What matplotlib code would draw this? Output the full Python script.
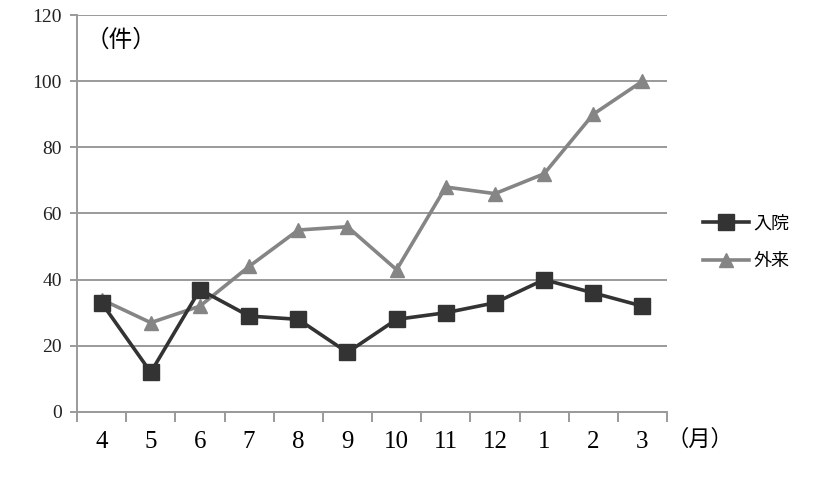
import matplotlib
matplotlib.use("Agg")
import matplotlib.pyplot as plt
import numpy as np

months = ["4", "5", "6", "7", "8", "9", "10", "11", "12", "1", "2", "3"]
inpatient = [33, 12, 37, 29, 28, 18, 28, 30, 33, 40, 36, 32]
outpatient = [34, 27, 32, 44, 55, 56, 43, 68, 66, 72, 90, 100]
yticks = [0, 20, 40, 60, 80, 100, 120]

plt.rcParams['font.family'] = ['Liberation Serif', 'Noto Sans CJK JP']

fig = plt.figure(figsize=(8.16, 4.84), dpi=100)
ax = fig.add_axes([0.0944, 0.1488, 0.8174 - 0.0944, 0.969 - 0.1488])

x = np.arange(len(months))
grid_c = "#9a9a9a"
ax.plot(x, inpatient, color="#333333", lw=2.6, marker="s", ms=11, label="入院", zorder=3)
ax.plot(x, outpatient, color="#858585", lw=2.6, marker="^", ms=10, label="外来", zorder=2)

ax.set_xlim(-0.5, len(months) - 0.5)
ax.set_ylim(0, 120)
ax.set_yticks(yticks)
ax.set_yticklabels([str(v) for v in yticks], fontsize=14, color="#222222")
ax.yaxis.grid(True, color=grid_c, lw=1.4)
ax.set_axisbelow(True)
ax.tick_params(axis='y', length=5, color=grid_c, width=1.4, pad=6)

ax.set_xticks(x)
ax.set_xticklabels(months, fontsize=18)
ax.set_xticks(np.arange(-0.5, len(months), 1.0), minor=True)
ax.tick_params(axis='x', which='major', length=0, pad=14)
ax.tick_params(axis='x', which='minor', length=7, color=grid_c, width=1.4)

for s in ["top", "right"]:
    ax.spines[s].set_visible(False)
for s in ["left", "bottom"]:
    ax.spines[s].set_color(grid_c)
    ax.spines[s].set_linewidth(1.4)

ax.text(0.015, 0.965, "（件）", transform=ax.transAxes, fontsize=17, va="top", ha="left",
        family=['Noto Sans CJK JP'])
ax.text(1.0, -0.07, "（月）", transform=ax.transAxes, fontsize=16, va="center", ha="left",
        family=['Noto Sans CJK JP'])

leg = fig.legend(loc="center left", bbox_to_anchor=(0.841, 0.50), frameon=False,
                 handlelength=2.6, handletextpad=0.2, labelspacing=1.1,
                 prop={'family': ['Noto Sans CJK JP'], 'size': 13})

fig.savefig("out.png", dpi=100)
